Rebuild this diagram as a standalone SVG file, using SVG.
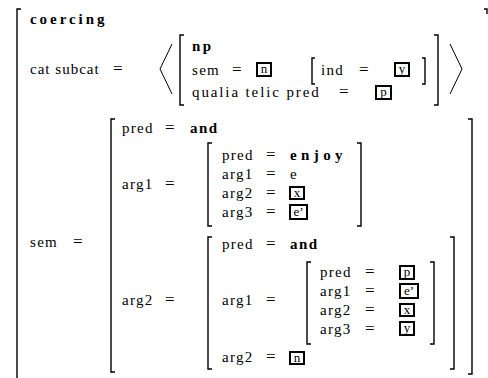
<svg xmlns="http://www.w3.org/2000/svg" width="488" height="378" viewBox="0 0 488 378" font-family="'Liberation Serif', 'DejaVu Serif', serif">
<style>
text{font-family:'Liberation Serif','DejaVu Serif',serif;font-size:15px;letter-spacing:1.3px;fill:#000}
.b{font-weight:bold;letter-spacing:2.5px}
.eq{font-size:17px;letter-spacing:0}
.bxt{font-size:13px;letter-spacing:0;text-anchor:middle}
.br{fill:none;stroke:#000;stroke-width:1.4}
.ang{fill:none;stroke:#000;stroke-width:1}
.bx{fill:#fff;stroke:#000;stroke-width:2}
</style>
<rect width="488" height="378" fill="#fff"/>

<g id="outer">
<path class="br" d="M21,9 H17 V378"/>
<path class="br" d="M484,9 H487 V14"/>
<text class="b" x="30" y="24" textLength="77">coercing</text>
<text x="30" y="74" textLength="70">cat subcat</text>
<text class="eq" x="113" y="74">=</text>
<text x="30" y="247">sem</text>
<text class="eq" x="73" y="247">=</text>
</g>

<g id="subcat">
<path class="ang" d="M172,44 L160,69 L172,94"/>
<path class="ang" d="M450,44 L462,69 L450,94"/>
<path class="br" d="M184,35 H180 V105 H184"/>
<path class="br" d="M434,35 H438 V105 H434"/>
<text class="b" x="192" y="51">np</text>
<text x="192" y="75">sem</text>
<text class="eq" x="232" y="75">=</text>
<rect class="bx" x="257" y="63" width="14" height="13"/>
<text class="bxt" x="264" y="73">n</text>
<path class="br" d="M315,58 H312 V84 H315"/>
<text x="321" y="75">ind</text>
<text class="eq" x="359" y="75">=</text>
<rect class="bx" x="395" y="63" width="14" height="13"/>
<text class="bxt" x="402" y="73">y</text>
<path class="br" d="M422,58 H425 V84 H422"/>
<text x="192" y="97" textLength="128">qualia telic pred</text>
<text class="eq" x="339" y="97">=</text>
<rect class="bx" x="376" y="86" width="15" height="13"/>
<text class="bxt" x="383.5" y="96">p</text>
</g>

<g id="sem">
<path class="br" d="M115,119 H111 V372 H115"/>
<path class="br" d="M468,119 H472 V374 H468"/>
<text x="122" y="133">pred</text>
<text class="eq" x="165" y="133">=</text>
<text class="b" x="190" y="133" style="letter-spacing:1.5px">and</text>
<text x="122" y="189">arg1</text>
<text class="eq" x="165" y="189">=</text>
<text x="122" y="305">arg2</text>
<text class="eq" x="165" y="305">=</text>
</g>

<g id="sem-arg1">
<path class="br" d="M212,143 H208 V226 H212"/>
<path class="br" d="M357,143 H361 V226 H357"/>
<text x="222" y="160">pred</text>
<text class="eq" x="266" y="160">=</text>
<text class="b" x="290" y="160" textLength="55">enjoy</text>
<text x="222" y="179">arg1</text>
<text class="eq" x="266" y="179">=</text>
<text x="290" y="179">e</text>
<text x="222" y="198">arg2</text>
<text class="eq" x="266" y="198">=</text>
<rect class="bx" x="290" y="187" width="14" height="12"/>
<text class="bxt" x="297" y="197">x</text>
<text x="222" y="217">arg3</text>
<text class="eq" x="266" y="217">=</text>
<rect class="bx" x="290" y="205" width="17" height="14"/>
<text class="bxt" x="298.5" y="216">e’</text>
</g>

<g id="sem-arg2">
<path class="br" d="M212,237 H208 V369 H212"/>
<path class="br" d="M450,237 H454 V369 H450"/>
<text x="222" y="249">pred</text>
<text class="eq" x="266" y="249">=</text>
<text class="b" x="290" y="249" style="letter-spacing:1.5px">and</text>
<text x="222" y="305">arg1</text>
<text class="eq" x="266" y="305">=</text>
<text x="222" y="362">arg2</text>
<text class="eq" x="266" y="362">=</text>
<rect class="bx" x="290" y="352" width="14" height="12"/>
<text class="bxt" x="297" y="362">n</text>
</g>

<g id="sem-arg2-arg1">
<path class="br" d="M311,262 H307 V344 H311"/>
<path class="br" d="M430,262 H434 V344 H430"/>
<text x="320" y="277">pred</text>
<text class="eq" x="365" y="277">=</text>
<rect class="bx" x="400" y="266" width="14" height="13"/>
<text class="bxt" x="407" y="276">p</text>
<text x="320" y="296">arg1</text>
<text class="eq" x="365" y="296">=</text>
<rect class="bx" x="400" y="284" width="18" height="14"/>
<text class="bxt" x="409" y="295">e’</text>
<text x="320" y="315">arg2</text>
<text class="eq" x="365" y="315">=</text>
<rect class="bx" x="400" y="304" width="14" height="12"/>
<text class="bxt" x="407" y="314">x</text>
<text x="320" y="334">arg3</text>
<text class="eq" x="365" y="334">=</text>
<rect class="bx" x="400" y="322" width="14" height="13"/>
<text class="bxt" x="407" y="332">y</text>
</g>
</svg>
